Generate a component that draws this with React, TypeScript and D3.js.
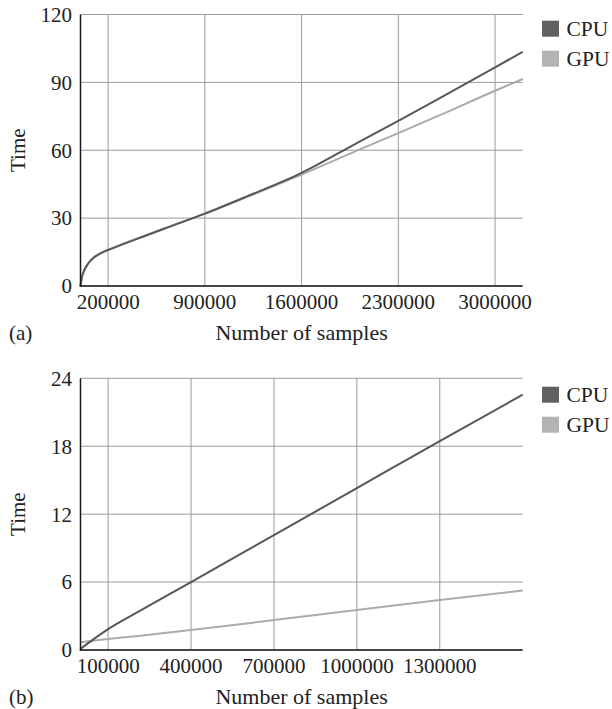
import React from "react";
import * as d3 from "d3";

// ---- Chart (a) data ----
const samplesA = [0, 10000, 25000, 50000, 100000, 150000, 200000, 300000, 400000, 600000, 900000, 1200000, 1600000, 2000000, 2300000, 2600000, 3000000, 3200000];
const cpuA = [0, 3.8, 6.6, 9.4, 12.7, 14.6, 15.9, 18.3, 20.6, 25.2, 32.0, 39.5, 50.0, 63.2, 73.0, 83.0, 96.6, 103.5];
const gpuA = [0, 4.0, 6.8, 9.6, 12.9, 14.8, 16.1, 18.5, 20.8, 25.3, 32.0, 39.2, 49.2, 59.8, 67.6, 75.5, 86.3, 91.5];
const xTicksA = [200000, 900000, 1600000, 2300000, 3000000];
const yTicksA = [0, 30, 60, 90, 120];

// ---- Chart (b) data ----
const samplesB = [0, 50000, 100000, 200000, 400000, 700000, 1000000, 1300000, 1600000];
const cpuB = [0.1, 1.0, 1.85, 3.25, 6.0, 10.15, 14.3, 18.45, 22.55];
const gpuB = [0.68, 0.83, 0.97, 1.22, 1.76, 2.64, 3.53, 4.41, 5.25];
const xTicksB = [100000, 400000, 700000, 1000000, 1300000];
const yTicksB = [0, 6, 12, 18, 24];

const seriesNames = ["CPU", "GPU"];
const lineColors = ["#575757", "#ababab"];
const legendColors = ["#616161", "#b3b3b3"];

const FONT = "'Liberation Serif', 'Times New Roman', serif";

type PanelProps = {
  samples: number[];
  cpu: number[];
  gpu: number[];
  xMax: number;
  yMax: number;
  xTicks: number[];
  yTicks: number[];
  top: number;
  bottom: number;
  legendTop: number;
  tag: string;
};

const LEFT = 80.5;
const RIGHT = 522.7;

function Panel(p: PanelProps) {
  const x = d3.scaleLinear().domain([0, p.xMax]).range([LEFT, RIGHT]);
  const y = d3.scaleLinear().domain([0, p.yMax]).range([p.bottom, p.top]);
  const line = d3
    .line<number>()
    .x((_, i) => x(p.samples[i]))
    .y((d) => y(d))
    .curve(d3.curveMonotoneX);
  const series = [p.cpu, p.gpu];
  const cx = (LEFT + RIGHT) / 2;
  const cy = (p.top + p.bottom) / 2;
  return (
    <g>
      {p.yTicks.map((t) => (
        <line key={"hy" + t} x1={LEFT} x2={RIGHT} y1={y(t)} y2={y(t)} stroke="#9a9a9a" strokeWidth={1} />
      ))}
      {p.xTicks.map((t) => (
        <line key={"vx" + t} x1={x(t)} x2={x(t)} y1={p.top} y2={p.bottom} stroke="#9a9a9a" strokeWidth={1} />
      ))}
      {[1, 0].map((i) => (
        <path key={"s" + i} d={line(series[i]) || ""} fill="none" stroke={lineColors[i]} strokeWidth={2} />
      ))}
      <line x1={LEFT} x2={LEFT} y1={p.top} y2={p.bottom + 0.75} stroke="#1a1a1a" strokeWidth={1.5} />
      <line x1={LEFT - 0.75} x2={RIGHT} y1={p.bottom} y2={p.bottom} stroke="#1a1a1a" strokeWidth={1.5} />
      {p.yTicks.map((t) => (
        <text key={"yl" + t} x={72} y={y(t)} dy="0.35em" textAnchor="end" fontSize={21} fill="#222">
          {t}
        </text>
      ))}
      {p.xTicks.map((t) => (
        <text key={"xl" + t} x={x(t)} y={p.bottom + 23} textAnchor="middle" fontSize={21} fill="#222">
          {t}
        </text>
      ))}
      <text x={cx} y={p.bottom + 53.5} textAnchor="middle" fontSize={22} fill="#222">
        Number of samples
      </text>
      <text transform={`translate(25,${cy}) rotate(-90)`} textAnchor="middle" fontSize={21} fill="#222">
        Time
      </text>
      <text x={9} y={p.bottom + 53.5} fontSize={21} fill="#222">
        {p.tag}
      </text>
      {seriesNames.map((n, i) => (
        <g key={"lg" + n} transform={`translate(542,${p.legendTop + i * 30})`}>
          <rect x={0} y={0} width={17} height={16} fill={legendColors[i]} />
          <text x={24.5} y={15.5} fontSize={21.5} fill="#222">
            {n}
          </text>
        </g>
      ))}
    </g>
  );
}

export default function App() {
  return (
    <svg width={612} height={709} style={{ display: "block", position: "absolute", left: 0, top: 0, background: "#fff" }} fontFamily={FONT}>
      <rect x={0} y={0} width={612} height={709} fill="#fff" />
      <Panel
        samples={samplesA}
        cpu={cpuA}
        gpu={gpuA}
        xMax={3200000}
        yMax={120}
        xTicks={xTicksA}
        yTicks={yTicksA}
        top={14.5}
        bottom={286}
        legendTop={20.7}
        tag="(a)"
      />
      <Panel
        samples={samplesB}
        cpu={cpuB}
        gpu={gpuB}
        xMax={1600000}
        yMax={24}
        xTicks={xTicksB}
        yTicks={yTicksB}
        top={378.3}
        bottom={650}
        legendTop={386.7}
        tag="(b)"
      />
    </svg>
  );
}
